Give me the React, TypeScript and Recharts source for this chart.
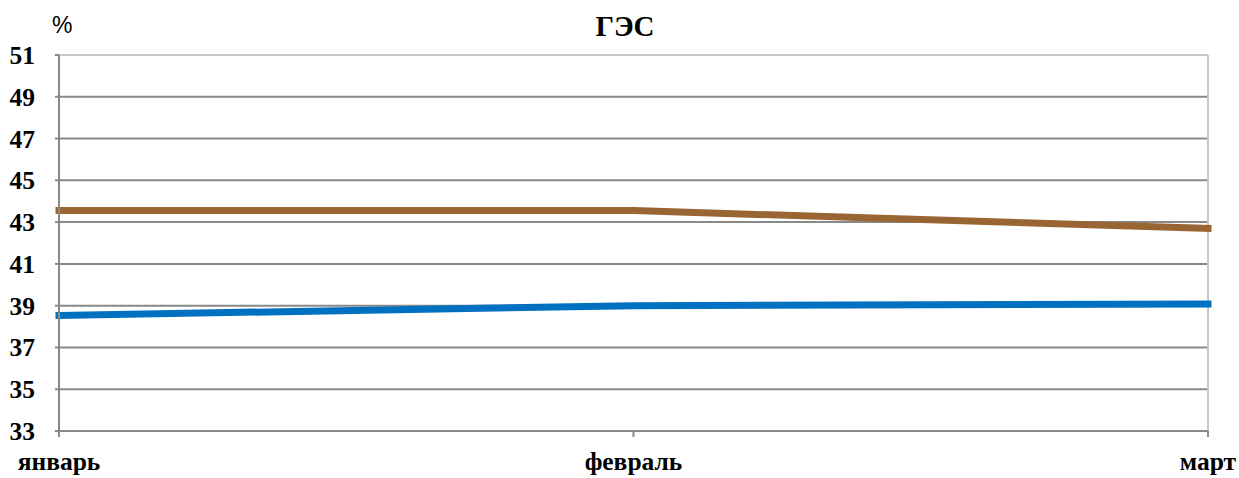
import React from "react";
import {
  LineChart,
  Line,
  XAxis,
  YAxis,
  CartesianGrid,
  ReferenceLine,
} from "recharts";

// Share of hydro power plants (ГЭС), percent, by month
const months = ["январь", "февраль", "март"];
const seriesBrown = [43.55, 43.55, 42.7];
const seriesBlue = [38.53, 39.0, 39.08];
const yTicks = [33, 35, 37, 39, 41, 43, 45, 47, 49, 51];

const data = months.map((m, i) => ({
  month: m,
  brown: seriesBrown[i],
  blue: seriesBlue[i],
}));

const FONT = '"Liberation Serif", "Times New Roman", serif';
const GRID = "#898989";
const LIGHT = "#c8c8c8";
const TICK_FONT = 25.5;

export default function App() {
  return (
    <div
      style={{
        position: "absolute",
        left: 0,
        top: 0,
        width: 1239,
        height: 478,
        background: "#fff",
        fontFamily: FONT,
      }}
    >
      <div
        style={{
          position: "absolute",
          left: 0,
          width: 1250,
          top: 11,
          textAlign: "center",
          fontWeight: "bold",
          fontSize: 29,
          lineHeight: "30px",
          color: "#000",
        }}
      >
        ГЭС
      </div>
      <div
        style={{
          position: "absolute",
          left: 52,
          top: 11,
          fontFamily: '"Liberation Sans", Arial, sans-serif',
          fontSize: 23,
          lineHeight: "28px",
          color: "#000",
        }}
      >
        %
      </div>
      <LineChart
        width={1239}
        height={478}
        data={data}
        margin={{ top: 55, right: 31, bottom: 0, left: 0 }}
      >
        <CartesianGrid vertical={false} stroke={GRID} strokeWidth={2} />
        <ReferenceLine y={51} stroke={LIGHT} strokeWidth={2} />
        <ReferenceLine x="март" stroke={LIGHT} strokeWidth={2} />
        <XAxis
          dataKey="month"
          height={47}
          interval={0}
          axisLine={{ stroke: GRID, strokeWidth: 2 }}
          tickLine={{ stroke: GRID, strokeWidth: 2 }}
          tickSize={6}
          tickMargin={15}
          tick={{
            fill: "#000",
            fontSize: TICK_FONT,
            fontWeight: "bold",
            fontFamily: FONT,
          }}
        />
        <YAxis
          width={59}
          domain={[33, 51]}
          ticks={yTicks}
          interval={0}
          axisLine={{ stroke: GRID, strokeWidth: 2 }}
          tickLine={{ stroke: GRID, strokeWidth: 2 }}
          tickSize={4}
          tickMargin={20}
          tick={{
            fill: "#000",
            fontSize: TICK_FONT,
            fontWeight: "bold",
            fontFamily: FONT,
          }}
        />
        <Line
          type="linear"
          dataKey="brown"
          stroke="#996633"
          strokeWidth={7}
          strokeLinecap="square"
          dot={false}
          activeDot={false}
          isAnimationActive={false}
        />
        <Line
          type="linear"
          dataKey="blue"
          stroke="#0070c0"
          strokeWidth={7}
          strokeLinecap="square"
          dot={false}
          activeDot={false}
          isAnimationActive={false}
        />
      </LineChart>
    </div>
  );
}
